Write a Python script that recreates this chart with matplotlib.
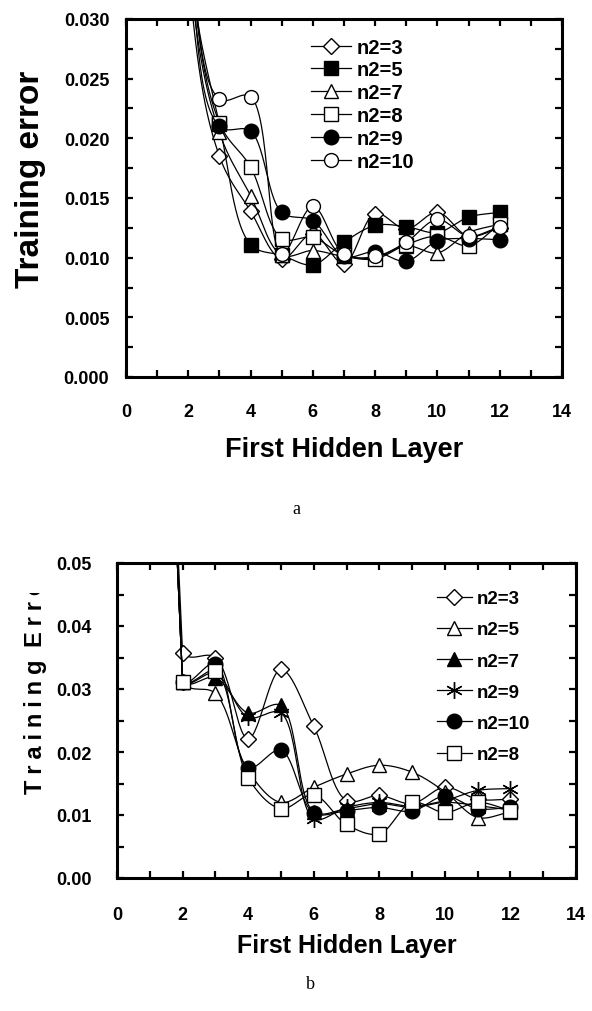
import numpy as np
import matplotlib
matplotlib.use('Agg')
import matplotlib.pyplot as plt
from matplotlib.lines import Line2D
from matplotlib.patches import Rectangle
from matplotlib.ticker import MultipleLocator, FormatStrFormatter

plt.rcParams['font.family'] = ['Liberation Sans', 'DejaVu Sans']
plt.rcParams['font.weight'] = 'bold'

# ---- panel a data ----
x_a = [1, 2, 3, 4, 5, 6, 7, 8, 9, 10, 11, 12]
labels_a = ['n2=3', 'n2=5', 'n2=7', 'n2=8', 'n2=9', 'n2=10']
a_n3 = [0.2, 0.034, 0.0185, 0.0139, 0.0099, 0.0120, 0.0095, 0.0137, 0.0124, 0.0138, 0.0118, 0.0125]
a_n5 = [0.2, 0.036, 0.0212, 0.0111, 0.0102, 0.0094, 0.0113, 0.0127, 0.0126, 0.0121, 0.0134, 0.0138]
a_n7 = [0.2, 0.035, 0.0205, 0.0152, 0.0102, 0.0106, 0.0101, 0.0100, 0.0110, 0.0104, 0.0121, 0.0128]
a_n8 = [0.2, 0.037, 0.0213, 0.0176, 0.0116, 0.0117, 0.0102, 0.0099, 0.0111, 0.0118, 0.0110, 0.0128]
a_n9 = [0.2, 0.038, 0.0210, 0.0206, 0.0138, 0.0131, 0.0101, 0.0105, 0.0097, 0.0114, 0.0116, 0.0115]
a_n10 = [0.2, 0.040, 0.0233, 0.0235, 0.0103, 0.0143, 0.0103, 0.0101, 0.0113, 0.0132, 0.0118, 0.0126]

# ---- panel b data ----
x_b = [1, 2, 3, 4, 5, 6, 7, 8, 9, 10, 11, 12]
labels_b = ['n2=3', 'n2=5', 'n2=7', 'n2=9', 'n2=10', 'n2=8']
b_n3 = [0.15, 0.0357, 0.0350, 0.0221, 0.0331, 0.0241, 0.0123, 0.0131, 0.0118, 0.0144, 0.0125, 0.0125]
b_n5 = [0.15, 0.0311, 0.0293, 0.0170, 0.0120, 0.0144, 0.0165, 0.0179, 0.0168, 0.0137, 0.0096, 0.0105]
b_n7 = [0.15, 0.0311, 0.0318, 0.0262, 0.0274, 0.0105, 0.0110, 0.0118, 0.0112, 0.0120, 0.0115, 0.0108]
b_n9 = [0.15, 0.0311, 0.0325, 0.0255, 0.0262, 0.0094, 0.0112, 0.0120, 0.0114, 0.0123, 0.0139, 0.0142]
b_n10 = [0.15, 0.0311, 0.0340, 0.0175, 0.0203, 0.0103, 0.0107, 0.0112, 0.0106, 0.0130, 0.0110, 0.0112]
b_n8 = [0.15, 0.0311, 0.0328, 0.0159, 0.0110, 0.0132, 0.0085, 0.0070, 0.0120, 0.0104, 0.0120, 0.0107]

STAR = (6, 2, 0)
style_a = [('D', 'white', 8.5), ('s', 'black', 10), ('^', 'white', 10),
           ('s', 'white', 10), ('o', 'black', 10.5), ('o', 'white', 10)]
style_b = [('D', 'white', 8.5), ('^', 'white', 10), ('^', 'black', 10),
           (STAR, 'none', 12), ('o', 'black', 10.5), ('s', 'white', 10)]


def smooth(x, y, sx, sy, n=30, straight_first=False):
    # centripetal catmull-rom in pixel space, like the spreadsheet "smoothed line"
    P = np.column_stack([np.asarray(x, float) * sx, np.asarray(y, float) * sy])
    P = np.vstack([2 * P[0] - P[1], P, 2 * P[-1] - P[-2]])
    out = [P[1:2]]
    for i in range(1, len(P) - 2):
        p0, p1, p2, p3 = P[i - 1:i + 3]
        if straight_first and i == 1:
            s = np.linspace(0, 1, n)[1:, None]
            out.append(p1 + s * (p2 - p1))
            continue
        t0 = 0.0
        t1 = t0 + np.linalg.norm(p1 - p0) ** 0.5
        t2 = t1 + np.linalg.norm(p2 - p1) ** 0.5
        t3 = t2 + np.linalg.norm(p3 - p2) ** 0.5
        t = np.linspace(t1, t2, n)[1:, None]
        a1 = (t1 - t) / (t1 - t0) * p0 + (t - t0) / (t1 - t0) * p1
        a2 = (t2 - t) / (t2 - t1) * p1 + (t - t1) / (t2 - t1) * p2
        a3 = (t3 - t) / (t3 - t2) * p2 + (t - t2) / (t3 - t2) * p3
        b1 = (t2 - t) / (t2 - t0) * a1 + (t - t0) / (t2 - t0) * a2
        b2 = (t3 - t) / (t3 - t1) * a2 + (t - t1) / (t3 - t1) * a3
        out.append((t2 - t) / (t2 - t1) * b1 + (t - t1) / (t2 - t1) * b2)
    c = np.vstack(out)
    return c[:, 0] / sx, c[:, 1] / sy


def panel(fig, rect, x, series, styles, labels, ymax, ymaj, ymin, yfmt,
          xpad, ypad, straight_first=False):
    ax = fig.add_axes(rect)
    ax.set_xlim(0, 14)
    ax.set_ylim(0, ymax)
    wpx = rect[2] * fig.get_figwidth() * fig.dpi
    hpx = rect[3] * fig.get_figheight() * fig.dpi
    sx, sy = wpx / 14.0, hpx / ymax
    handles = []
    for k, (ys, (m, fc, ms), lab) in enumerate(zip(series, styles, labels)):
        cx, cy = smooth(x, ys, sx, sy, straight_first=straight_first)
        ax.plot(cx, cy, color='black', lw=0.9, zorder=2 + 2 * k)
        ax.plot(x, ys, ls='none', marker=m, mfc=fc, mec='black', mew=1.0,
                ms=ms, zorder=3 + 2 * k)
        handles.append(Line2D([], [], color='black', lw=0.9, marker=m, mfc=fc,
                              mec='black', mew=1.0, ms=ms, label=lab))
    for s in ax.spines.values():
        s.set_linewidth(2.2)
    ax.xaxis.set_major_locator(MultipleLocator(2))
    ax.xaxis.set_minor_locator(MultipleLocator(1))
    ax.yaxis.set_major_locator(MultipleLocator(ymaj))
    ax.yaxis.set_minor_locator(MultipleLocator(ymin))
    ax.yaxis.set_major_formatter(FormatStrFormatter(yfmt))
    ax.tick_params(which='both', direction='in', length=5, width=1.6,
                   top=True, right=True, labelsize=13)
    ax.tick_params(axis='x', which='major', pad=xpad)
    ax.tick_params(axis='y', which='major', pad=ypad)
    return ax, handles


fig = plt.figure(figsize=(5.92, 10.12), dpi=100)
W, H = 592.0, 1012.0

# panel a: axes box 126..562 px, 20..378 px
rect_a = [126 / W, (H - 378) / H, 436 / W, 358 / H]
ax1, h1 = panel(fig, rect_a, x_a, [a_n3, a_n5, a_n7, a_n8, a_n9, a_n10],
                style_a, labels_a, 0.030, 0.005, 0.0025, '%.3f', 19, 12)
ax1.set_xlabel('First Hidden Layer', fontsize=19.5, fontweight='bold')
ax1.xaxis.set_label_coords(0.5, -0.165)
ax1.set_ylabel('Training error', fontsize=24, fontweight='bold')
ax1.yaxis.set_label_coords(-0.183, 0.555)
ax1.legend(handles=h1, loc='upper left', bbox_to_anchor=(0.425, 0.948),
           frameon=False, fontsize=14.5, handlelength=1.95, handletextpad=0.3,
           labelspacing=0.19, borderpad=0, borderaxespad=0)

# panel b: axes box 117..576 px, 564..879 px
rect_b = [117 / W, (H - 879) / H, 459 / W, 315 / H]
ax2, h2 = panel(fig, rect_b, x_b, [b_n3, b_n5, b_n7, b_n9, b_n10, b_n8],
                style_b, labels_b, 0.05, 0.01, 0.005, '%.2f', 20, 18,
                straight_first=True)
ax2.set_xlabel('First Hidden Layer', fontsize=18, fontweight='bold')
ax2.xaxis.set_label_coords(0.5, -0.175)
gap = '\u2005'
ylab = gap.join('Training') + ' ' + gap + gap.join('Error')
yl = ax2.set_ylabel(ylab, fontsize=17, fontweight='bold')
ax2.yaxis.set_label_coords(-0.152, 0.632)
clip = Rectangle((0, 0), 1, (H - 594) / H, transform=fig.transFigure)
yl.set_clip_path(clip)
ax2.legend(handles=h2, loc='upper left', bbox_to_anchor=(0.697, 0.914),
           frameon=False, fontsize=13.5, handlelength=1.85, handletextpad=0.3,
           labelspacing=0.75, borderpad=0, borderaxespad=0)

fig.text(296 / W, 1 - 510 / H, 'a', family='Liberation Serif', fontweight='normal',
         fontsize=13, ha='center', va='center')
fig.text(310 / W, 1 - 985 / H, 'b', family='Liberation Serif', fontweight='normal',
         fontsize=13, ha='center', va='center')

fig.savefig('out.png', dpi=100)
